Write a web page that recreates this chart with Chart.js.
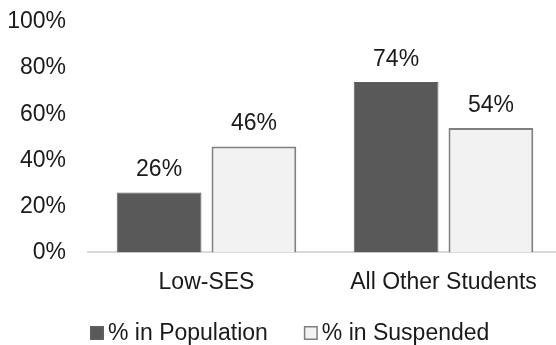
<!DOCTYPE html>
<html>
<head>
<meta charset="utf-8">
<script src="https://cdn.jsdelivr.net/npm/chart.js@4/dist/chart.umd.min.js"></script>
<style>
  html, body { margin: 0; padding: 0; background: #fff; overflow: hidden; }
  #wrap { width: 562px; height: 345px; }
</style>
</head>
<body>
<div id="wrap"><canvas id="c"></canvas></div>
<script>
// Share of students by group, in the school population vs. among suspended students
const categories = ['Low-SES', 'All Other Students'];
const populationPct = [26, 74];
const suspendedPct = [46, 54];
const yTicks = [0, 20, 40, 60, 80, 100];

const FONT = '"Liberation Sans", Arial, sans-serif';
const SIZE = 23;
const TEXT = '#1a1a1a';

// Value labels above each bar
const valueLabels = {
  id: 'valueLabels',
  afterDatasetsDraw(chart) {
    const ctx = chart.ctx;
    ctx.save();
    ctx.font = SIZE + 'px ' + FONT;
    ctx.fillStyle = TEXT;
    ctx.textAlign = 'center';
    ctx.textBaseline = 'bottom';
    chart.data.datasets.forEach((ds, i) => {
      chart.getDatasetMeta(i).data.forEach((bar, j) => {
        ctx.fillText(ds.data[j] + '%', bar.x, bar.y - 11);
      });
    });
    ctx.restore();
  }
};

// Legend row under the axis
const bottomLegend = {
  id: 'bottomLegend',
  afterDraw(chart) {
    const ctx = chart.ctx;
    ctx.save();
    ctx.font = SIZE + 'px ' + FONT;
    ctx.textBaseline = 'middle';
    ctx.textAlign = 'left';
    const y = 333;
    let x = 90;
    chart.data.datasets.forEach((ds) => {
      ctx.fillStyle = ds.backgroundColor;
      ctx.fillRect(x, y - 7, 14, 14);
      ctx.strokeStyle = ds.borderColor;
      ctx.lineWidth = 1.5;
      ctx.strokeRect(x + 0.75, y - 6.25, 12.5, 12.5);
      x += 18;
      ctx.fillStyle = TEXT;
      ctx.fillText(ds.label, x, y + 1);
      x += ctx.measureText(ds.label).width + 36;
    });
    ctx.restore();
  }
};

new Chart(document.getElementById('c'), {
  type: 'bar',
  data: {
    labels: categories,
    datasets: [
      {
        label: '% in Population',
        data: populationPct,
        backgroundColor: '#595959',
        borderColor: '#5f5f5f',
        borderWidth: 1
      },
      {
        label: '% in Suspended',
        data: suspendedPct,
        backgroundColor: '#f2f2f2',
        borderColor: '#7f7f7f',
        borderWidth: 2
      }
    ]
  },
  options: {
    responsive: true,
    maintainAspectRatio: false,
    animation: false,
    devicePixelRatio: 1,
    categoryPercentage: 0.8,
    barPercentage: 0.894,
    layout: { padding: { top: 0, right: 0, bottom: 33, left: 0 } },
    plugins: {
      legend: { display: false },
      tooltip: { enabled: false }
    },
    scales: {
      x: {
        grid: { display: false, drawTicks: false },
        border: { display: true, color: '#d9d9d9', width: 2 },
        ticks: { font: { family: FONT, size: SIZE }, color: TEXT, padding: 16 }
      },
      y: {
        min: 0,
        max: 100,
        afterFit(scale) {
          scale.width = 88;
          scale.paddingTop = 22;
        },
        afterBuildTicks(scale) { scale.ticks = yTicks.map(v => ({ value: v })); },
        grid: { display: false, drawTicks: false },
        border: { display: false },
        ticks: {
          font: { family: FONT, size: SIZE },
          color: TEXT,
          padding: 22,
          callback: v => v + '%'
        }
      }
    }
  },
  plugins: [valueLabels, bottomLegend]
});
</script>
</body>
</html>
